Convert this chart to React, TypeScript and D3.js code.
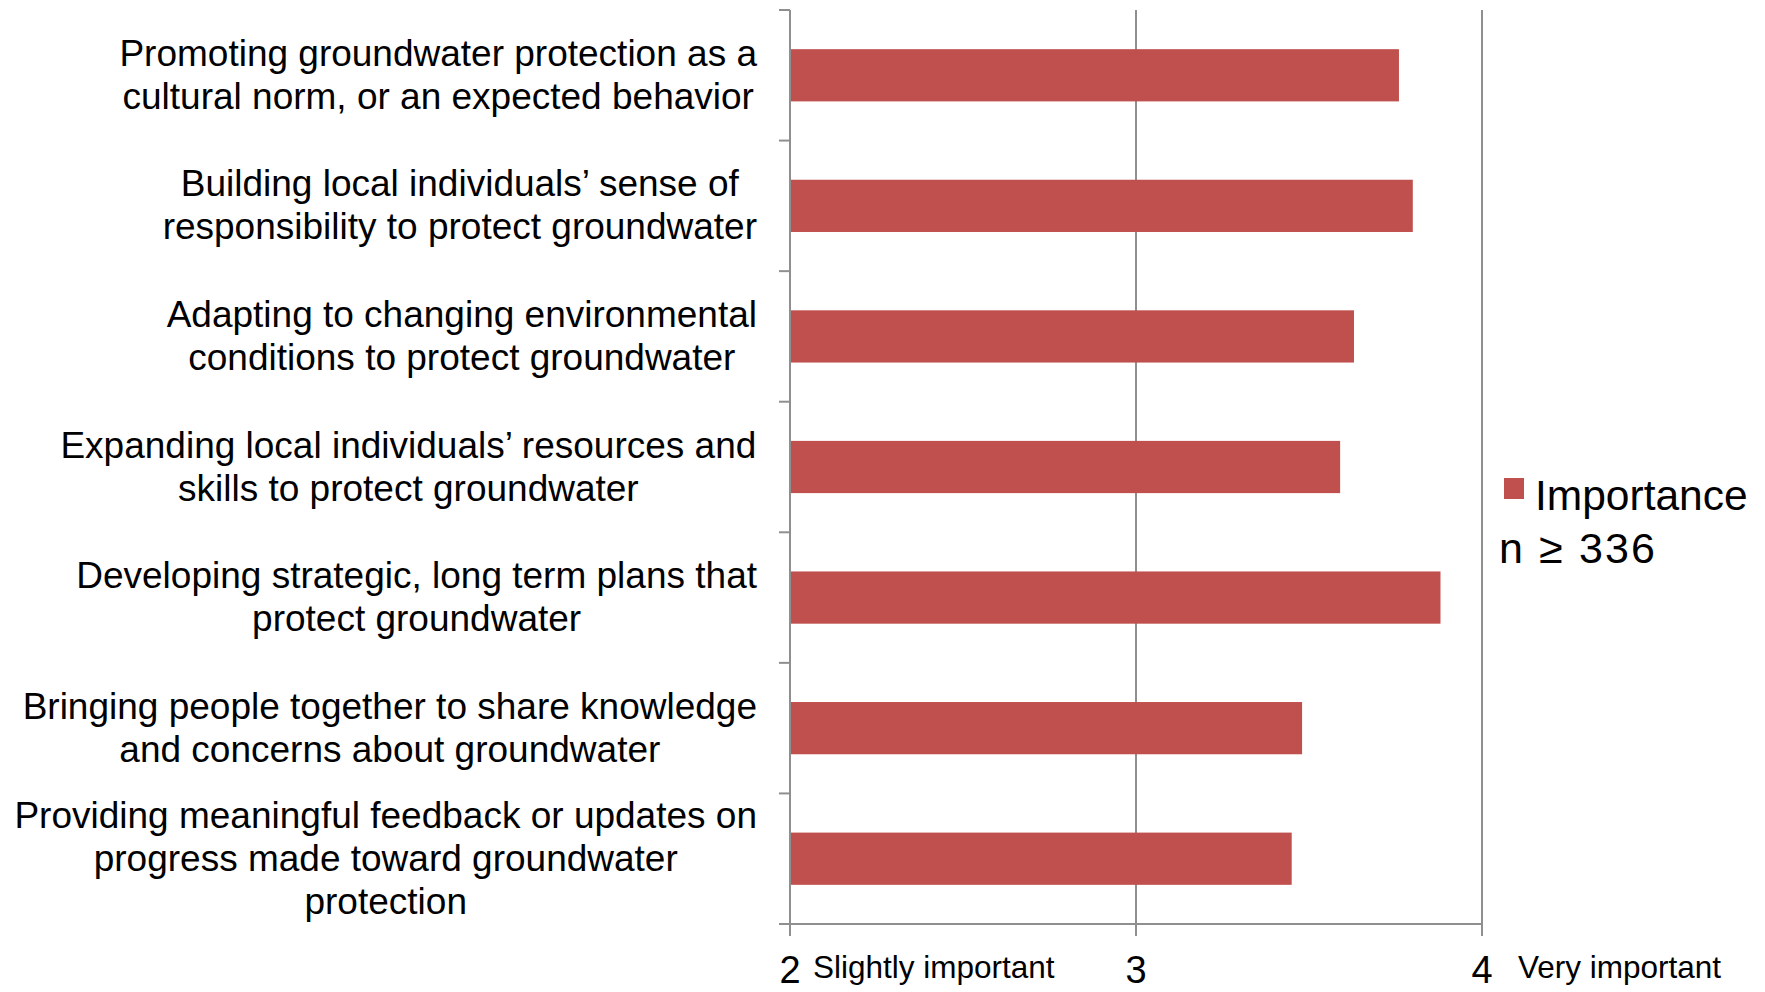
import React, { useMemo } from "react";
import * as d3 from "d3";

const categories: string[][] = [
  ["Promoting groundwater protection as a", "cultural norm, or an expected behavior"],
  ["Building local individuals’ sense of", "responsibility to protect groundwater"],
  ["Adapting to changing environmental", "conditions to protect groundwater"],
  ["Expanding local individuals’ resources and", "skills to protect groundwater"],
  ["Developing strategic, long term plans that", "protect groundwater"],
  ["Bringing people together to share knowledge", "and concerns about groundwater"],
  ["Providing meaningful feedback or updates on", "progress made toward groundwater", "protection"],
];
const importance: number[] = [3.76, 3.8, 3.63, 3.59, 3.88, 3.48, 3.45];
const xTicks: number[] = [2, 3, 4];
const xTickDescriptors: { value: number; text: string }[] = [
  { value: 2, text: "Slightly important" },
  { value: 4, text: "Very important" },
];
const legendLabel = "Importance";
const noteText = "n ≥ 336";

const W = 1765;
const H = 992;
const FONT = '"Liberation Sans", Arial, sans-serif';
const BAR = "#C0504D";
const AXIS = "#8f8f8f";

function measure(text: string, size: number): number {
  const c = document.createElement("canvas");
  const ctx = c.getContext("2d")!;
  ctx.font = `${size}px "Liberation Sans"`;
  return ctx.measureText(text).width;
}

export default function App() {
  if (typeof document !== "undefined") document.body.style.margin = "0";
  const x = d3.scaleLinear().domain([2, 4]).range([790, 1482]);
  const keys = categories.map((_, i) => String(i));
  const y = d3.scaleBand<string>().domain(keys).range([10, 924]).paddingInner(0.6).paddingOuter(0.3);
  const step = y.step();
  const top = 10;
  const bottom = 924;
  const labelSize = 37;
  const lineGap = 43;
  const labelRight = 757;

  const blockWidths = useMemo(
    () => categories.map((lines) => Math.max(...lines.map((l) => measure(l, labelSize)))),
    []
  );

  const bandEdges = d3.range(categories.length + 1).map((i) => top + i * step);

  return (
    <svg width={W} height={H} style={{ position: "absolute", left: 0, top: 0, background: "#fff" }} fontFamily={FONT}>
      {/* gridlines */}
      {xTicks.slice(1).map((t) => (
        <line key={"g" + t} x1={x(t)} x2={x(t)} y1={top} y2={bottom} stroke={AXIS} strokeWidth={2} />
      ))}
      {/* bars */}
      {importance.map((v, i) => (
        <rect key={i} x={x(2)} y={y(String(i))!} width={x(v) - x(2)} height={y.bandwidth()} fill={BAR} />
      ))}
      {/* y axis */}
      <line x1={x(2)} x2={x(2)} y1={top} y2={bottom + 12} stroke={AXIS} strokeWidth={2} />
      {bandEdges.map((e, i) => (
        <line key={"yt" + i} x1={779} x2={x(2)} y1={e} y2={e} stroke={AXIS} strokeWidth={2} />
      ))}
      {/* x axis */}
      <line x1={779} x2={x(4)} y1={bottom} y2={bottom} stroke={AXIS} strokeWidth={2} />
      {xTicks.map((t) => (
        <line key={"xt" + t} x1={x(t)} x2={x(t)} y1={bottom} y2={bottom + 12} stroke={AXIS} strokeWidth={2} />
      ))}
      {xTicks.map((t) => (
        <text key={"xl" + t} x={x(t)} y={983} fontSize={38} textAnchor="middle" fill="#000">
          {t}
        </text>
      ))}
      {xTickDescriptors.map((d) => (
        <text key={"xd" + d.value} x={x(d.value) + (d.value === 2 ? 23 : 36)} y={978} fontSize={31.5} fill="#000">
          {d.text}
        </text>
      ))}
      {/* category labels */}
      {categories.map((lines, i) => {
        const c = y(String(i))! + y.bandwidth() / 2;
        const cx = labelRight - blockWidths[i] / 2;
        return (
          <text key={"cl" + i} fontSize={labelSize} textAnchor="middle" fill="#000">
            {lines.map((l, j) => (
              <tspan key={j} x={cx} y={c + (j - (lines.length - 1) / 2) * lineGap + 12}>
                {l}
              </tspan>
            ))}
          </text>
        );
      })}
      {/* legend */}
      <rect x={1504} y={478} width={20} height={21} fill={BAR} />
      <text x={1535} y={510} fontSize={42.5} fill="#000">
        {legendLabel}
      </text>
      <text x={1499} y={563} fontSize={43} fill="#000" textLength={156} lengthAdjust="spacing">
        {noteText}
      </text>
    </svg>
  );
}
